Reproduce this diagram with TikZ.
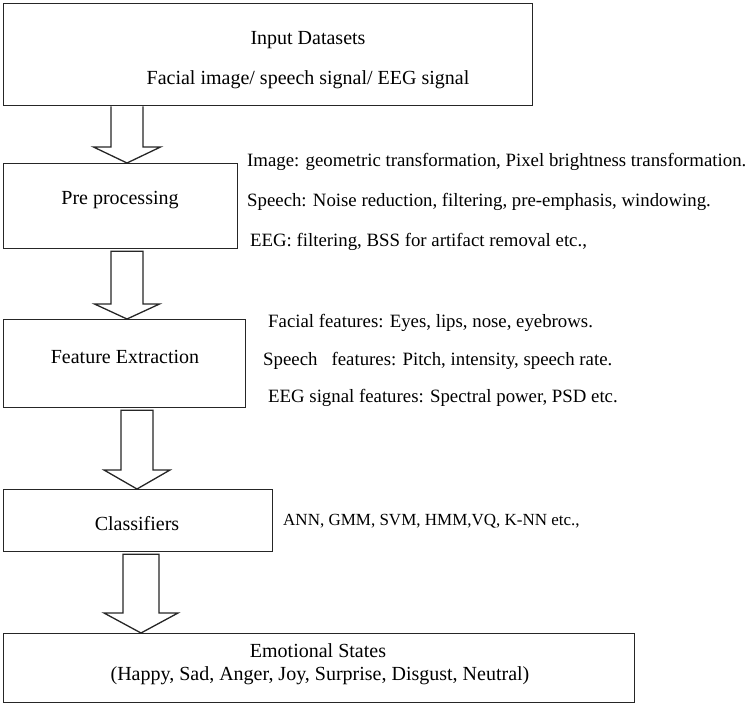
\documentclass[tikz,border=0pt]{standalone}
\usepackage{fontspec}
\setmainfont{Liberation Serif}
\usetikzlibrary{calc}
\begin{document}
\begin{tikzpicture}[x=1pt,y=-1pt,
  box/.style={draw=black!85, line width=1.3pt, fill=white, inner sep=0pt, anchor=north west},
  lbl/.style={font=\fontsize{20}{24}\selectfont, inner sep=0pt},
  side/.style={font=\fontsize{18.8}{22}\selectfont, inner sep=0pt, anchor=west},
  sidesm/.style={font=\fontsize{17}{20}\selectfont, inner sep=0pt, anchor=west},
  barrow/.style={draw=black!85, line width=1.3pt, fill=white, line join=miter}]
\useasboundingbox (0,0) rectangle (755,705);

% boxes
\node[box, minimum width=529pt, minimum height=102pt] (b1) at (3,3) {};
\node[box, minimum width=234pt, minimum height=85pt] (b2) at (3,163) {};
\node[box, minimum width=242pt, minimum height=88pt] (b3) at (3,319) {};
\node[box, minimum width=269pt, minimum height=62pt] (b4) at (3,489) {};
\node[box, minimum width=631pt, minimum height=69pt] (b5) at (3,633) {};

% box texts
\node[lbl] (t1a) at (308,40) {Input Datasets};
\node[lbl] (t1b) at (308,80) {Facial image/ speech signal/ EEG signal};
\node[lbl] (t2) at (120,200) {Pre processing};
\node[lbl] (t3) at (125,357) {Feature Extraction};
\node[lbl] (t4) at (137,524) {Classifiers};
\node[lbl] (t5a) at (318,651) {Emotional States};
\node[lbl] (t5b) at (320,676) {(Happy, Sad, Anger, Joy, Surprise, Disgust, Neutral)};

% side texts
\node[side] (s2a) at (247,162) {Image: geometric transformation, Pixel brightness transformation.};
\node[side] (s2b) at (247,202) {Speech: Noise reduction, filtering, pre-emphasis, windowing.};
\node[side] (s2c) at (250,242) {EEG: filtering, BSS for artifact removal etc.,};
\node[side] (s3a) at (268,323) {Facial features: Eyes, lips, nose, eyebrows.};
\node[side] (s3b) at (263,361) {Speech\ \ \ features: Pitch, intensity, speech rate.};
\node[side] (s3c) at (268,398) {EEG signal features: Spectral power, PSD etc.};
\node[sidesm] (s4) at (283,521) {ANN, GMM, SVM, HMM,VQ, K-NN etc.,};

% arrow axes
\coordinate (a1) at (127,0);
\coordinate (a2) at (127,0);
\coordinate (a3) at (137,0);
\coordinate (a4) at (141,0);

% block arrows: shaft half width, head half width, head length
\newcommand{\blockarr}[6]{%
  \draw[barrow] let \p1=($(#1|-#2.south)+(0,#6)$), \p2=(#1|-#3.north) in
    (\x1-#4,\y1) -- (\x1-#4,\y2+#5pt+#5pt) -- (\x1+#4,\y2+#5pt+#5pt) -- (\x1+#4,\y1) -- cycle;}
\draw[barrow] let \p1=($(a1|-b1.south)+(0,0)$), \p2=(a1|-b2.north) in
  (\x1-16pt,\y1) -- (\x1-16pt,\y2+16pt) -- (\x1-33.5pt,\y2+16pt) -- (\x2,\y2)
  -- (\x1+33.5pt,\y2+16pt) -- (\x1+16pt,\y2+16pt) -- (\x1+16pt,\y1);
\draw[barrow] let \p1=($(a2|-b2.south)+(0,2)$), \p2=(a2|-b3.north) in
  (\x1-16pt,\y1) -- (\x1-16pt,\y2+15pt) -- (\x1-32.5pt,\y2+15pt) -- (\x2,\y2)
  -- (\x1+32.5pt,\y2+15pt) -- (\x1+16pt,\y2+15pt) -- (\x1+16pt,\y1) -- cycle;
\draw[barrow] let \p1=($(a3|-b3.south)+(0,2)$), \p2=(a3|-b4.north) in
  (\x1-16pt,\y1) -- (\x1-16pt,\y2+19pt) -- (\x1-33pt,\y2+19pt) -- (\x2,\y2)
  -- (\x1+33pt,\y2+19pt) -- (\x1+16pt,\y2+19pt) -- (\x1+16pt,\y1) -- cycle;
\draw[barrow] let \p1=($(a4|-b4.south)+(0,2)$), \p2=(a4|-b5.north) in
  (\x1-18pt,\y1) -- (\x1-18pt,\y2+20pt) -- (\x1-37pt,\y2+20pt) -- (\x2,\y2)
  -- (\x1+37pt,\y2+20pt) -- (\x1+18pt,\y2+20pt) -- (\x1+18pt,\y1) -- cycle;
\end{tikzpicture}
\end{document}
